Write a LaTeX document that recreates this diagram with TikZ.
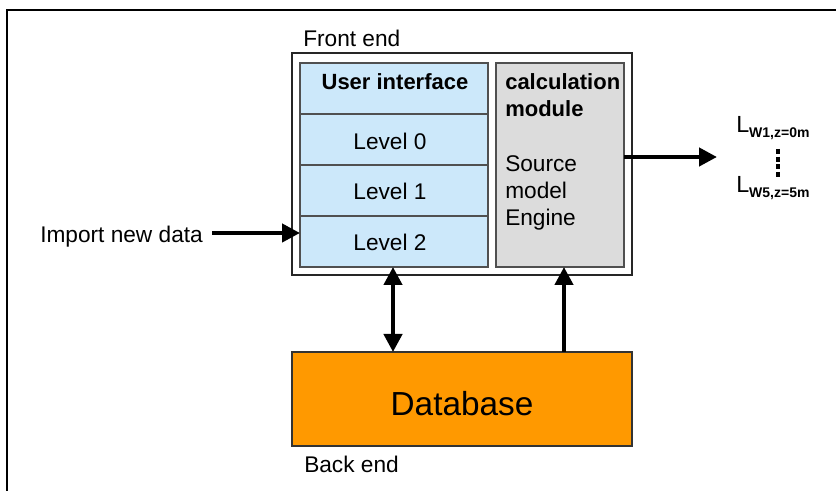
\documentclass[tikz,border=0pt]{standalone}
\usepackage{fontspec}
\setmainfont{Liberation Sans}
\usetikzlibrary{arrows.meta}
\definecolor{uiblue}{HTML}{CCE8FA}
\definecolor{calcgray}{HTML}{DCDCDC}
\definecolor{dborange}{HTML}{FF9900}
\definecolor{edgegray}{HTML}{505050}
\begin{document}
\begin{tikzpicture}[x=0.75pt,y=-0.75pt,
  box/.style={draw, line width=0.8pt, inner sep=0pt, outer sep=0pt, anchor=north west},
  rowbox/.style={box, draw=edgegray, fill=uiblue, minimum width=141pt, minimum height=38.25pt},
  lbl/.style={inner sep=0pt, font=\fontsize{17}{20}\selectfont},
  arr/.style={line width=3.2pt, -{Triangle[length=13.5pt,width=13.5pt]}},
  darr/.style={line width=3.2pt, {Triangle[length=13.5pt,width=13.5pt]}-{Triangle[length=13.5pt,width=13.5pt]}}]
\useasboundingbox (0,0) rectangle (836,491);
\draw[line width=1.5pt] (7,491) -- (7,10) -- (836,10);
% front end frame
\node[box, draw=black!85, minimum width=255pt, minimum height=166.5pt] (fe) at (292,53) {};
\node[lbl, anchor=base west] (felbl) at (303,47) {Front end};
% user interface rows
\node[rowbox] (uititle) at (300,63) {};
\node[rowbox] (lv0) at (300,114) {};
\node[rowbox] (lv1) at (300,165) {};
\node[rowbox] (lv2) at (300,216) {};
\node[lbl, anchor=base, font=\fontsize{16.5}{20}\selectfont\bfseries] (uit) at (395,90) {User interface};
\node[lbl, anchor=base] (t0) at (390,150) {Level 0};
\node[lbl, anchor=base] (t1) at (390,200) {Level 1};
\node[lbl, anchor=base] (t2) at (390,251) {Level 2};
% calculation module
\node[box, draw=edgegray, fill=calcgray, minimum width=96pt, minimum height=153pt] (calc) at (496,63) {};
\node[lbl, anchor=base west, font=\fontsize{16.5}{20}\selectfont\bfseries] (c1) at (505,90) {calculation};
\node[lbl, anchor=base west, font=\fontsize{16.5}{20}\selectfont\bfseries] (c2) at (505,117) {module};
\node[lbl, anchor=base west] (c3) at (505,172) {Source};
\node[lbl, anchor=base west] (c4) at (505,199) {model};
\node[lbl, anchor=base west] (c5) at (505,226) {Engine};
% database
\node[box, draw=black!80, fill=dborange, minimum width=255pt, minimum height=70.5pt] (db) at (292,352) {};
\node[inner sep=0pt, anchor=base, font=\fontsize{25}{30}\selectfont] (dbt) at (462,416) {Database};
\node[lbl, anchor=base west] (belbl) at (304,473) {Back end};
% import
\node[lbl, anchor=base west] (imp) at (40,243) {Import new data};
\coordinate (impstart) at (212,233);
\draw[arr] (impstart) -- (impstart -| lv2.west);
% output
\coordinate (outend) at (717,157);
\draw[arr] (outend -| calc.east) -- (outend);
\node[inner sep=0pt, anchor=base west] (lw1) at (736,133) {\fontsize{17.5}{20}\selectfont L\raisebox{-3.75pt}{\fontsize{10.5}{12}\selectfont\bfseries W1,z=0m}};
\node[inner sep=0pt, anchor=base west] (lw5) at (736,193) {\fontsize{17.5}{20}\selectfont L\raisebox{-3.75pt}{\fontsize{10.5}{12}\selectfont\bfseries W5,z=5m}};
\coordinate (dtop) at (778,149);
\coordinate (dbot) at (778,177);
\draw[line width=3.3pt, dash pattern=on 3.75pt off 2pt] (dtop) -- (dbot);
% vertical links
\coordinate (a1) at (393,300);
\coordinate (a2) at (564,300);
\draw[darr] (a1 |- lv2.south) -- (a1 |- db.north);
\draw[arr] (a2 |- db.north) -- (a2 |- calc.south);
\end{tikzpicture}
\end{document}
